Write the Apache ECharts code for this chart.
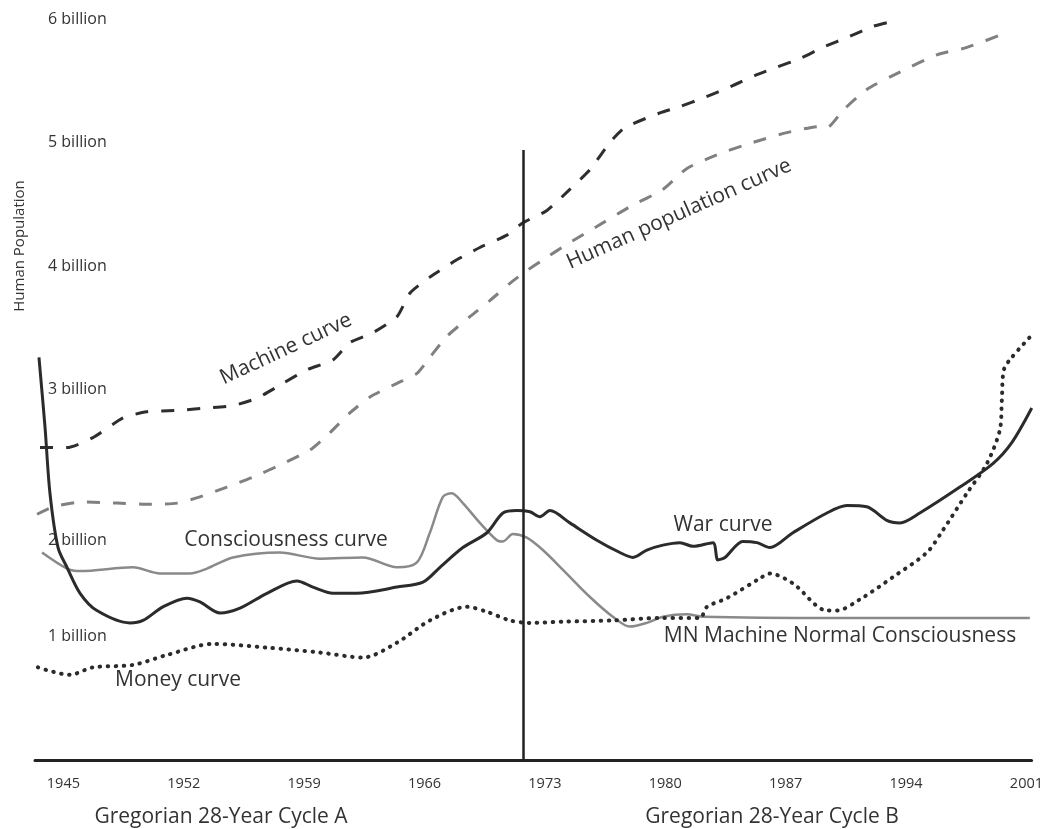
<!DOCTYPE html>
<html>
<head>
<meta charset="utf-8">
<title>Gregorian 28-Year Cycles</title>
<script src="https://cdn.jsdelivr.net/npm/echarts@6/dist/echarts.min.js"></script>
<style>
  html, body { margin: 0; padding: 0; background: #fff; }
  #main { width: 1046px; height: 829px; }
</style>
</head>
<body>
<div id="main"></div>
<script>
// x = year, y = billions
var yearTicks = [1945, 1952, 1959, 1966, 1973, 1980, 1987, 1994, 2001];
var cycleLabels = ['Gregorian 28-Year Cycle A', 'Gregorian 28-Year Cycle B'];
var dividerYear = 1971.72;
var dividerTop = 4.94;

var machineCurve = [
  [1943.64, 2.53], [1945.21, 2.53], [1946.72, 2.61], [1948.47, 2.77], [1949.86, 2.82],
  [1951.61, 2.83], [1953.35, 2.85], [1954.86, 2.87], [1956.26, 2.93], [1957.77, 3.05],
  [1959.16, 3.16], [1960.68, 3.24], [1961.66, 3.38], [1963.00, 3.46], [1964.40, 3.59],
  [1965.15, 3.78], [1966.31, 3.91], [1967.88, 4.05], [1969.22, 4.15], [1970.79, 4.25],
  [1971.72, 4.35], [1973.12, 4.45], [1974.45, 4.62], [1975.62, 4.78], [1976.78, 5.00],
  [1977.65, 5.12], [1979.69, 5.24], [1980.85, 5.29], [1982.19, 5.36], [1983.76, 5.45],
  [1985.33, 5.55], [1986.49, 5.61], [1987.83, 5.68], [1989.16, 5.77], [1990.73, 5.86],
  [1992.07, 5.94], [1992.88, 5.97]
];

var populationCurve = [
  [1943.47, 1.99], [1944.40, 2.05], [1946.14, 2.09], [1948.12, 2.08], [1950.04, 2.07],
  [1951.61, 2.08], [1952.94, 2.13], [1954.51, 2.21], [1956.02, 2.29], [1957.77, 2.40],
  [1959.34, 2.51], [1960.50, 2.65], [1961.66, 2.81], [1962.83, 2.94], [1964.40, 3.05],
  [1965.56, 3.13], [1966.31, 3.26], [1967.30, 3.43], [1968.64, 3.59], [1969.80, 3.72],
  [1970.97, 3.86], [1971.72, 3.94], [1972.88, 4.05], [1974.45, 4.19], [1976.02, 4.32],
  [1977.94, 4.48], [1979.86, 4.62], [1981.26, 4.79], [1983.18, 4.91], [1985.09, 5.00],
  [1987.07, 5.08], [1988.99, 5.13], [1989.40, 5.12], [1990.33, 5.26], [1991.72, 5.43],
  [1993.64, 5.57], [1995.79, 5.71], [1997.54, 5.77], [1999.86, 5.89]
];

var consciousnessCurve = [
  [1943.76, 1.68], [1945.21, 1.55], [1945.97, 1.53], [1949.05, 1.56], [1950.62, 1.51],
  [1952.36, 1.51], [1953.35, 1.55], [1954.86, 1.64], [1957.59, 1.68], [1959.92, 1.63],
  [1962.42, 1.64], [1964.40, 1.56], [1965.56, 1.60], [1966.31, 1.84], [1967.07, 2.13],
  [1967.59, 2.16], [1968.23, 2.08], [1969.22, 1.92], [1970.21, 1.78], [1970.56, 1.77],
  [1971.14, 1.83], [1971.95, 1.80], [1972.88, 1.70], [1974.05, 1.54], [1975.62, 1.32],
  [1976.95, 1.16], [1977.94, 1.08], [1978.93, 1.11], [1979.86, 1.16], [1981.26, 1.18],
  [1982.19, 1.16], [1990.00, 1.15], [2001.20, 1.15]
];

var warCurve = [
  [1943.58, 3.26], [1943.93, 2.70], [1944.22, 2.16], [1944.69, 1.72], [1945.21, 1.56],
  [1945.97, 1.35], [1946.95, 1.21], [1948.87, 1.11], [1949.63, 1.13], [1950.79, 1.24],
  [1952.19, 1.31], [1952.94, 1.28], [1954.11, 1.19], [1955.27, 1.23], [1956.84, 1.35],
  [1958.58, 1.45], [1959.51, 1.40], [1960.68, 1.35], [1962.07, 1.35], [1964.40, 1.40],
  [1965.91, 1.44], [1966.90, 1.56], [1968.23, 1.72], [1969.63, 1.84], [1970.56, 2.00],
  [1971.37, 2.02], [1972.13, 2.01], [1972.71, 1.97], [1973.29, 2.02], [1974.45, 1.92],
  [1976.02, 1.78], [1977.36, 1.68], [1978.12, 1.64], [1978.93, 1.70], [1979.86, 1.74],
  [1980.85, 1.76], [1981.61, 1.73], [1982.77, 1.76], [1983.06, 1.62], [1983.47, 1.64],
  [1984.51, 1.77], [1985.33, 1.76], [1986.08, 1.72], [1987.42, 1.84], [1989.40, 2.00],
  [1990.56, 2.06], [1991.72, 2.05], [1992.88, 1.94], [1993.64, 1.92], [1994.80, 2.00],
  [1997.13, 2.21], [1999.05, 2.40], [2000.15, 2.57], [2001.31, 2.85]
];

var moneyCurve = [
  [1943.52, 0.75], [1945.38, 0.69], [1946.72, 0.75], [1949.05, 0.77], [1951.02, 0.85],
  [1953.70, 0.94], [1956.84, 0.91], [1959.92, 0.87], [1962.42, 0.83], [1964.40, 0.95],
  [1966.31, 1.13], [1968.47, 1.24], [1969.63, 1.20], [1970.97, 1.13], [1972.13, 1.11],
  [1974.05, 1.12], [1976.95, 1.13], [1979.69, 1.15], [1982.01, 1.15], [1982.42, 1.24],
  [1983.58, 1.31], [1985.50, 1.47], [1986.08, 1.51], [1987.42, 1.43], [1989.40, 1.21],
  [1989.98, 1.21], [1991.31, 1.30], [1993.23, 1.48], [1995.21, 1.68], [1996.14, 1.86],
  [1997.54, 2.16], [1998.70, 2.40], [1999.45, 2.67], [1999.57, 2.91], [1999.69, 3.16],
  [2000.15, 3.26], [2001.31, 3.44]
];

var font = '"Open Sans", "DejaVu Sans", sans-serif';
var ink = '#2b2b2b';

var chart = echarts.init(document.getElementById('main'));

function curveText(text, x, y, deg, size) {
  return {
    type: 'text',
    x: x, y: y,
    rotation: deg * Math.PI / 180,
    style: {
      text: text,
      fill: '#333',
      font: size + 'px ' + font,
      textAlign: 'center',
      textVerticalAlign: 'middle'
    }
  };
}

var option = {
  backgroundColor: '#fff',
  animation: false,
  grid: { left: 35, right: 14, top: 19, bottom: 69 },
  xAxis: {
    type: 'value',
    min: 1943.35,
    max: 2001.3,
    axisLine: { show: true, lineStyle: { color: '#222', width: 3 } },
    axisTick: { show: false },
    splitLine: { show: false },
    axisLabel: {
      customValues: yearTicks,
      margin: 16,
      color: '#333',
      fontSize: 14.5,
      fontFamily: font,
      formatter: function (v) { return String(v); }
    }
  },
  yAxis: {
    type: 'value',
    min: 0,
    max: 6,
    interval: 1,
    axisLine: { show: false },
    axisTick: { show: false },
    splitLine: { show: false },
    axisLabel: {
      inside: true,
      margin: 13,
      color: '#333',
      fontSize: 16,
      fontFamily: font,
      formatter: function (v) {
        if (v === 0) return '';
        if (v === 2) return '{low|2 billion}';
        return v + ' billion';
      },
      rich: {
        low: { fontSize: 16, fontFamily: font, color: '#333', padding: [54, 0, 0, 0] }
      }
    }
  },
  graphic: [
    curveText('Human Population', 20, 246, 90, 15),
    curveText('Machine curve', 286, 349, 25, 21),
    curveText('Human population curve', 679, 214, 24, 21),
    curveText('Consciousness curve', 286, 540, 0, 21),
    curveText('War curve', 723, 525, 0, 21),
    curveText('MN Machine Normal Consciousness', 840, 636, 0, 21),
    curveText('Money curve', 178, 680, 0, 21),
    curveText(cycleLabels[0], 221, 817, 0, 21),
    curveText(cycleLabels[1], 772, 817, 0, 21)
  ],
  series: [
    {
      name: 'Human population curve',
      type: 'line',
      data: populationCurve,
      smooth: 0.2,
      symbol: 'none',
      clip: false,
      lineStyle: { color: '#808080', width: 3, type: [13, 13] }
    },
    {
      name: 'Machine curve',
      type: 'line',
      data: machineCurve,
      smooth: 0.2,
      symbol: 'none',
      clip: false,
      lineStyle: { color: '#2e2e2e', width: 3, type: [13, 13] }
    },
    {
      name: 'Consciousness curve',
      type: 'line',
      data: consciousnessCurve,
      smooth: 0.3,
      symbol: 'none',
      clip: false,
      lineStyle: { color: '#8a8a8a', width: 2.5 }
    },
    {
      name: 'Money curve',
      type: 'line',
      data: moneyCurve,
      smooth: 0.3,
      symbol: 'none',
      clip: false,
      lineStyle: { color: ink, width: 4, type: [0.5, 7.5], cap: 'round' }
    },
    {
      name: 'War curve',
      type: 'line',
      data: warCurve,
      smooth: 0.3,
      symbol: 'none',
      clip: false,
      lineStyle: { color: ink, width: 3 },
      markLine: {
        silent: true,
        symbol: 'none',
        label: { show: false },
        lineStyle: { color: '#222', width: 2.5, type: 'solid' },
        data: [[{ coord: [dividerYear, 0] }, { coord: [dividerYear, dividerTop] }]]
      }
    }
  ]
};

chart.setOption(option);
</script>
</body>
</html>
